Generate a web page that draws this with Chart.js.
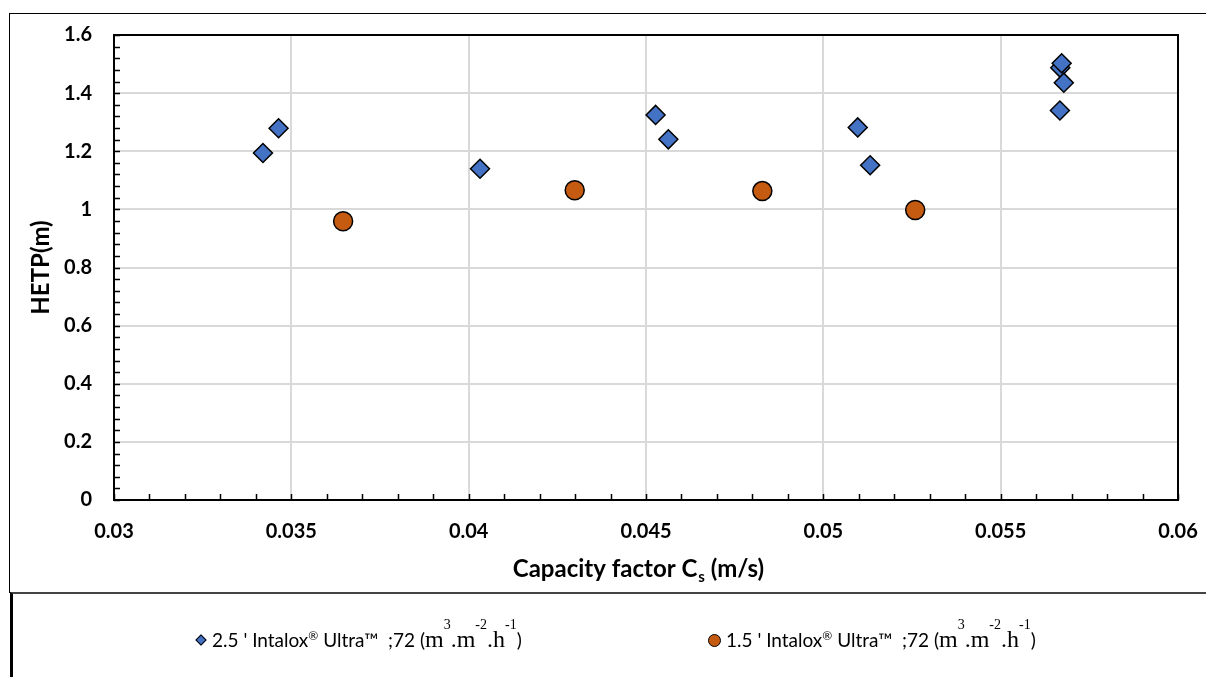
<!DOCTYPE html>
<html>
<head>
<meta charset="utf-8">
<script src="https://cdn.jsdelivr.net/npm/chart.js@4/dist/chart.umd.min.js"></script>
<style>
  html, body { margin: 0; padding: 0; background: #fff; overflow: hidden; }
  #wrap { position: relative; width: 1206px; height: 677px; overflow: hidden; }
  #frame { position: absolute; left: 9px; top: 13px; width: 1300px; height: 579px;
           border-left: 1px solid #000; border-top: 1px solid #000; }
  #legendBox { position: absolute; left: 10px; top: 592px; width: 1300px; height: 200px;
               border-left: 3px solid #000; border-top: 2px solid #444; }
  canvas { position: absolute; left: 0; top: 0; }
  .item { position: absolute; top: 624px; font-family: Lato, sans-serif; font-size: 19px;
          color: #000; white-space: nowrap; line-height: 30px; }
  .mk { display: inline-block; vertical-align: middle; margin-right: 5px; box-sizing: border-box; }
  .diamond { width: 8px; height: 8px; background: #4472C4; border: 1px solid #000;
             transform: rotate(45deg); margin-left: 2px; margin-right: 7px; position: relative; top: -2px; }
  .circle { width: 13px; height: 13px; background: #C55A11; border: 1.5px solid #000;
            border-radius: 50%; position: relative; top: -2px; }
  .reg { font-size: 12px; position: relative; top: -7px; }
  .serif { font-family: "Liberation Serif", "DejaVu Serif", serif; font-size: 24px; }
  .serif sup { font-size: 14px; position: relative; top: 1px; vertical-align: top; line-height: 0; }
</style>
</head>
<body>
<div id="wrap">
  <div id="frame"></div>
  <div id="legendBox"></div>
  <canvas id="chartData" width="1206" height="677"></canvas>
  <div class="item" style="left:195px"><span class="mk diamond"></span><span id="lab0"></span></div>
  <div class="item" style="left:708px"><span class="mk circle"></span><span id="lab1"></span></div>
</div>
<script>
// values
const seriesNames = ["2.5 ' Intalox® Ultra™", "1.5 ' Intalox® Ultra™"];

const cs25 = [0.0342, 0.03464, 0.04032, 0.04527, 0.04563, 0.05097, 0.05132, 0.05668, 0.05672, 0.05678, 0.05667];
const hetp25 = [1.194, 1.279, 1.140, 1.325, 1.241, 1.282, 1.152, 1.487, 1.503, 1.436, 1.340];

const cs15 = [0.03646, 0.04299, 0.04828, 0.05259];
const hetp15 = [0.959, 1.066, 1.063, 0.998];

const xTicks = [0.03, 0.035, 0.04, 0.045, 0.05, 0.055, 0.06];
const yTicks = [0, 0.2, 0.4, 0.6, 0.8, 1, 1.2, 1.4, 1.6];

// legend text (unit with superscripts)
const unitHtml = ' &nbsp;;72 (<span class="serif">m<sup>3</sup>.m<sup>-2</sup>.h<sup>-1</sup></span>)';
const nameHtml = (s) => s.replace("®", '<span class="reg">®</span>');
document.getElementById("lab0").innerHTML = nameHtml(seriesNames[0]) + unitHtml;
document.getElementById("lab1").innerHTML = nameHtml(seriesNames[1]) + unitHtml;

const toPoints = (xs, ys) => xs.map((x, i) => ({ x: x, y: ys[i] }));

const fontBold = { family: "Lato", size: 20, weight: "bold" };

// box around the plot, inward minor ticks, x title with subscript
const decorations = {
    id: "decorations",
    afterDraw(chart) {
        const ctx = chart.ctx;
        const a = chart.chartArea;
        const xs = chart.scales.x;
        const ys = chart.scales.y;
        ctx.save();
        ctx.strokeStyle = "#000";
        ctx.lineWidth = 1.5;
        ctx.beginPath();
        for (let i = 0; i <= 30; i++) {
            const px = Math.round(xs.getPixelForValue(0.03 + i * 0.001)) + 0.5;
            ctx.moveTo(px, a.bottom);
            ctx.lineTo(px, a.bottom - 6);
        }
        for (let i = 0; i <= 40; i++) {
            const py = Math.round(ys.getPixelForValue(i * 0.04)) + 0.5;
            ctx.moveTo(a.left, py);
            ctx.lineTo(a.left + 6, py);
        }
        ctx.stroke();
        ctx.lineWidth = 2;
        ctx.strokeRect(a.left, a.top, a.right - a.left, a.bottom - a.top);

        // x axis title
        const big = "bold 24px Lato";
        const small = "bold 15px Lato";
        ctx.fillStyle = "#000";
        ctx.textBaseline = "middle";
        ctx.font = big;
        const p1 = "Capacity factor C", p3 = " (m/s)";
        const w1 = ctx.measureText(p1).width, w3 = ctx.measureText(p3).width;
        ctx.font = small;
        const w2 = ctx.measureText("s").width;
        let x = 638 - (w1 + w2 + w3) / 2;
        const y = 569;
        ctx.font = big;
        ctx.fillText(p1, x, y);
        ctx.font = small;
        ctx.fillText("s", x + w1 + 1, y + 8);
        ctx.font = big;
        ctx.fillText(p3, x + w1 + w2 + 1, y);
        ctx.restore();
    }
};

new Chart(document.getElementById("chartData"), {
    type: "scatter",
    data: {
        datasets: [{
            label: seriesNames[0],
            data: toPoints(cs25, hetp25),
            pointStyle: "rectRot",
            pointRadius: 9.5,
            pointHoverRadius: 9.5,
            backgroundColor: "#4472C4",
            borderColor: "#000",
            borderWidth: 1.5,
        }, {
            label: seriesNames[1],
            data: toPoints(cs15, hetp15),
            pointStyle: "circle",
            pointRadius: 9.5,
            pointHoverRadius: 9.5,
            backgroundColor: "#C55A11",
            borderColor: "#000",
            borderWidth: 1.5,
        }],
    },
    options: {
        responsive: false,
        animation: false,
        devicePixelRatio: 1,
        layout: { padding: { left: 27, top: 35, right: 28, bottom: 0 } },
        plugins: { legend: { display: false }, tooltip: { enabled: false } },
        scales: {
            x: {
                type: "linear",
                min: 0.03,
                max: 0.06,
                afterBuildTicks: (s) => { s.ticks = xTicks.map(v => ({ value: v })); },
                afterFit: (s) => { s.height = 177; s.paddingLeft = 0; s.paddingRight = 0; },
                grid: { color: "#d9d9d9", lineWidth: 2, drawTicks: false },
                border: { color: "#000", width: 2 },
                ticks: {
                    color: "#000",
                    font: fontBold,
                    padding: 20,
                    maxRotation: 0,
                    callback: (v) => String(parseFloat(v.toFixed(3))),
                },
            },
            y: {
                min: 0,
                max: 1.6,
                afterBuildTicks: (s) => { s.ticks = yTicks.map(v => ({ value: v })); },
                afterFit: (s) => { s.width = 87; s.paddingTop = 0; s.paddingBottom = 0; },
                grid: { color: "#d9d9d9", lineWidth: 2, drawTicks: false },
                border: { color: "#000", width: 2 },
                title: {
                    display: true,
                    text: "HETP(m)",
                    color: "#000",
                    font: { family: "Lato", size: 24, weight: "bold" },
                    padding: 0,
                },
                ticks: {
                    color: "#000",
                    font: fontBold,
                    padding: 22,
                    callback: (v) => String(parseFloat(v.toFixed(2))),
                },
            },
        },
    },
    plugins: [decorations],
});
</script>
</body>
</html>
